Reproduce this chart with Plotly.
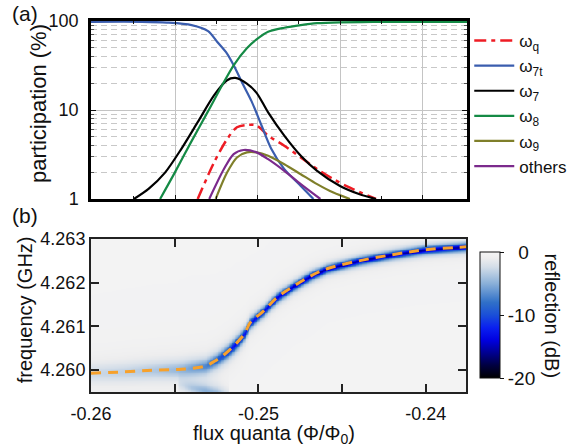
import numpy as np
import plotly.graph_objects as go

# ---------------- panel (a) data: participation (%) vs flux ----------------
wq_flux = [-0.25363, -0.25264, -0.25185, -0.25125, -0.25065, -0.25006, -0.24936, -0.24838, -0.24738, -0.24639, -0.2454, -0.2444, -0.24282]
wq_vals = [1.0, 2.57, 4.7, 6.4, 6.8, 6.7, 5.15, 3.97, 2.93, 2.17, 1.67, 1.34, 1.0]

w7t_flux = [-0.2601, -0.2570, -0.2555, -0.2540, -0.2530, -0.25244, -0.25185, -0.25145, -0.25085, -0.25036, -0.24976, -0.24917, -0.24839, -0.24738, -0.24661]
w7t_vals = [98, 98, 96, 90, 77, 58, 43, 31.8, 18.9, 12.5, 6.7, 3.67, 2.18, 1.4, 1.0]

w7_flux = [-0.2575, -0.25661, -0.25561, -0.25463, -0.25363, -0.25264, -0.25185, -0.25135, -0.25065, -0.25006, -0.24936, -0.24838, -0.24738, -0.24639, -0.245, -0.24381, -0.24282]
w7_vals = [1.0, 1.3, 1.98, 3.64, 7.3, 14.6, 21.6, 22.9, 19.8, 15.6, 9.4, 5.15, 3.06, 2.07, 1.40, 1.13, 1.0]

w8_flux = [-0.25591, -0.25502, -0.25405, -0.25304, -0.25204, -0.25145, -0.25065, -0.25006, -0.24936, -0.24838, -0.24738, -0.24639, -0.245, -0.243, -0.2373]
w8_vals = [1.0, 1.98, 4.3, 9.4, 20.6, 31.8, 49.3, 62, 75.7, 84, 90, 94.5, 96.6, 97.5, 97.5]

w9_flux = [-0.25254, -0.25185, -0.25125, -0.25065, -0.25006, -0.24936, -0.24838, -0.24738, -0.24639, -0.2454, -0.2444]
w9_vals = [1.0, 1.98, 2.93, 3.34, 3.34, 3.06, 2.46, 1.9, 1.47, 1.18, 1.0]

oth_flux = [-0.25293, -0.25204, -0.25145, -0.25085, -0.25006, -0.24936, -0.24838, -0.24738, -0.24619]
oth_vals = [1.0, 2.17, 3.2, 3.55, 3.34, 2.8, 2.07, 1.47, 1.0]

# ---------------- panel (b) data: resonance ----------------
res_flux = [-0.2600, -0.2580, -0.2562, -0.2546, -0.2532, -0.2526, -0.2520, -0.2514, -0.2508, -0.2505,
            -0.2497, -0.2489, -0.2479, -0.2469, -0.2459, -0.2440, -0.2420, -0.2401, -0.2376]
res_freq = [4.25993, 4.25996, 4.26000, 4.26002, 4.26009, 4.26021, 4.26037, 4.26058, 4.26085, 4.26108,
            4.26135, 4.26166, 4.26192, 4.26215, 4.26232, 4.26250, 4.26264, 4.26275, 4.26282]
res_depth = [-2.4, -2.8, -3.4, -4.4, -6.5, -8.5, -10.5, -13, -12.5, -12.5,
             -13, -13.5, -14.5, -15, -15.5, -15.5, -15.5, -15.5, -15.5]
res_width = [0.00024, 0.00024, 0.00023, 0.00021, 0.00017, 0.00015, 0.00014, 0.00013, 0.00012, 0.00011,
             0.0001, 0.0001, 0.00009, 0.00009, 0.00008, 0.00008, 0.00008, 0.00008, 0.00008]

low_flux = [-0.2548, -0.2540, -0.2532, -0.2525, -0.2518]
low_freq = [4.25968, 4.25960, 4.25953, 4.25948, 4.25945]
low_depth = [-1.0, -3.0, -4.5, -4.0, -1.5]

background_db = -0.3

xticks_b = [-0.26, -0.25, -0.24]
xtick_text_b = ['-0.26', '-0.25', '-0.24']
yticks_b = [4.260, 4.261, 4.262, 4.263]
ytick_text_b = ['4.260', '4.261', '4.262', '4.263']
cb_ticks = [0, -10, -20]
cb_text = ['\u00a0\u00a00', '-10', '-20']

# ---------------- build heatmap ----------------
xg = np.linspace(-0.26, -0.2376, 240)
yg = np.linspace(4.2595, 4.263, 190)
X, Y = np.meshgrid(xg, yg)
f0 = np.interp(xg, res_flux, res_freq)
dep = np.interp(xg, res_flux, res_depth)
wid = np.interp(xg, res_flux, res_width)
Z = background_db + dep[None, :] / (1 + ((Y - f0[None, :]) / wid[None, :]) ** 2) ** 1.3
lf0 = np.interp(xg, low_flux, low_freq)
ldep = np.interp(xg, low_flux, low_depth, left=0, right=0)
Z = Z + ldep[None, :] / (1 + ((Y - lf0[None, :]) / 0.00016) ** 2) ** 1.3
Z = np.clip(Z, -20, 0)

FONT = "Liberation Sans, Arial, sans-serif"
TXT = "#111111"

fig = go.Figure()

def add_line(x, y, name, color, dash='solid', width=2.2):
    fig.add_trace(go.Scatter(x=x, y=y, name=name, mode='lines',
                             line=dict(color=color, width=width, dash=dash, shape='spline', smoothing=0.8),
                             xaxis='x', yaxis='y'))

add_line(wq_flux, wq_vals, 'ω<sub>q</sub>', '#ee1c24', dash='12px,5px,4px,5px', width=2.5)
add_line(w7t_flux, w7t_vals, 'ω<sub>7t</sub>', '#3a5dae')
add_line(w7_flux, w7_vals, 'ω<sub>7</sub>', '#000000')
add_line(w8_flux, w8_vals, 'ω<sub>8</sub>', '#148a45')
add_line(w9_flux, w9_vals, 'ω<sub>9</sub>', '#7f7f2a')
add_line(oth_flux, oth_vals, 'others', '#7b2a8c')

colorscale = [
    [0.0, '#000000'], [0.1, '#000040'], [0.2, '#000090'], [0.3, '#0000e0'],
    [0.4, '#0a20f0'], [0.5, '#1a4fd8'], [0.6, '#3070c8'], [0.75, '#8ab0d8'],
    [0.88, '#d3dde8'], [0.95, '#ededee'], [1.0, '#f5f5f5']]

fig.add_trace(go.Heatmap(x=xg, y=yg, z=Z, zmin=-20, zmax=0, colorscale=colorscale,
                         zsmooth='best', xaxis='x2', yaxis='y2', showlegend=False,
                         colorbar=dict(x=(487 - 91) / 383, xanchor='left', xpad=0,
                                       y=(392 - 315) / 371, yanchor='middle', ypad=0,
                                       len=126 / 371, lenmode='fraction', thickness=20,
                                       outlinewidth=1, outlinecolor='#111',
                                       tickvals=cb_ticks, ticktext=cb_text, ticks='outside',
                                       ticklen=4, tickcolor='#111',
                                       tickfont=dict(size=19, family=FONT, color=TXT))))

fig.add_trace(go.Scatter(x=res_flux, y=res_freq, mode='lines', showlegend=False,
                         line=dict(color='#f7a12b', width=3, dash='10px,7px', shape='spline'),
                         xaxis='x2', yaxis='y2'))

minor_vals = [2, 3, 4, 5, 6, 7, 8, 9, 20, 30, 40, 50, 60, 70, 80, 90]

fig.update_layout(
    width=584, height=447,
    margin=dict(l=91, r=110, t=21, b=55),
    paper_bgcolor='white', plot_bgcolor='white',
    font=dict(family=FONT, size=18, color=TXT),
    xaxis=dict(domain=[0, 1], anchor='y', range=[-0.2601, -0.2373],
               showticklabels=False, tickvals=[-0.255, -0.25, -0.245, -0.24],
               ticks='inside', ticklen=4, tickcolor='#111',
               showgrid=True, gridcolor='#c4c4c4', gridwidth=1.3, zeroline=False,
               showline=True, linewidth=2.5, linecolor='#000', mirror='ticks',
               minor=dict(tickvals=[-0.2575, -0.2525, -0.2475, -0.2425], ticks='inside',
                          ticklen=3, tickcolor='#111', showgrid=False)),
    yaxis=dict(domain=[(392 - 199) / 371, 1], anchor='x', type='log', range=[0, 2],
               tickvals=[1, 10, 100], ticktext=['1', '10', '100'],
               ticks='inside', ticklen=5, tickcolor='#111', ticklabelstandoff=6,
               tickfont=dict(size=18),
               showgrid=True, gridcolor='#c4c4c4', gridwidth=1.3, zeroline=False,
               showline=True, linewidth=2.5, linecolor='#000', mirror='ticks',
               minor=dict(tickvals=minor_vals, showgrid=True, griddash='6px,4px',
                          gridcolor='#c8c8c8', gridwidth=1, ticks='inside', ticklen=3,
                          tickcolor='#555')),
    xaxis2=dict(domain=[0, 382 / 383], anchor='y2', range=[-0.26, -0.2376],
                tickvals=xticks_b, ticktext=xtick_text_b,
                ticks='inside', ticklen=8, tickwidth=2, tickcolor='#222',
                tickfont=dict(size=18), ticklabelstandoff=4,
                showgrid=False, zeroline=False,
                showline=True, linewidth=2, linecolor='#222', mirror='ticks',
                minor=dict(tickvals=[-0.255, -0.245], ticks='inside', ticklen=8,
                           tickwidth=2, tickcolor='#222', showgrid=False)),
    yaxis2=dict(domain=[0, (392 - 239) / 371], anchor='x2', range=[4.2595, 4.263],
                tickvals=yticks_b, ticktext=ytick_text_b,
                ticks='inside', ticklen=8, tickwidth=2, tickcolor='#222',
                tickfont=dict(size=18), ticklabelstandoff=0,
                showgrid=False, zeroline=False,
                showline=True, linewidth=2, linecolor='#222', mirror='ticks'),
    legend=dict(x=1.006, xanchor='left', y=(392 - 23) / 371, yanchor='top',
                font=dict(size=17, family=FONT, color=TXT), bgcolor='rgba(0,0,0,0)',
                borderwidth=0, tracegroupgap=0, itemwidth=40),
)

def px2paper(px, py):
    return (px - 91) / 383, (392 - py) / 371

annos = [
    ('(a)', 24, 13, 0, 21),
    ('(b)', 24, 215, 0, 21),
    ('participation (%)', 38, 103, -90, 22),
    ('frequency (GHz)', 24, 310, -90, 20),
    ('flux quanta (Φ/Φ<sub>0</sub>)', 277, 434, 0, 20),
    ('reflection (dB)', 561, 316, 90, 20),
]
for text, px, py, ang, sz in annos:
    xp, yp = px2paper(px, py)
    fig.add_annotation(text=text, x=xp, y=yp, xref='paper', yref='paper',
                       xanchor='center', yanchor='middle', showarrow=False,
                       textangle=ang, font=dict(size=sz, family=FONT, color=TXT))

fig.write_html("out.html", config={'displayModeBar': False},
               post_script="document.body.style.margin='0';")
